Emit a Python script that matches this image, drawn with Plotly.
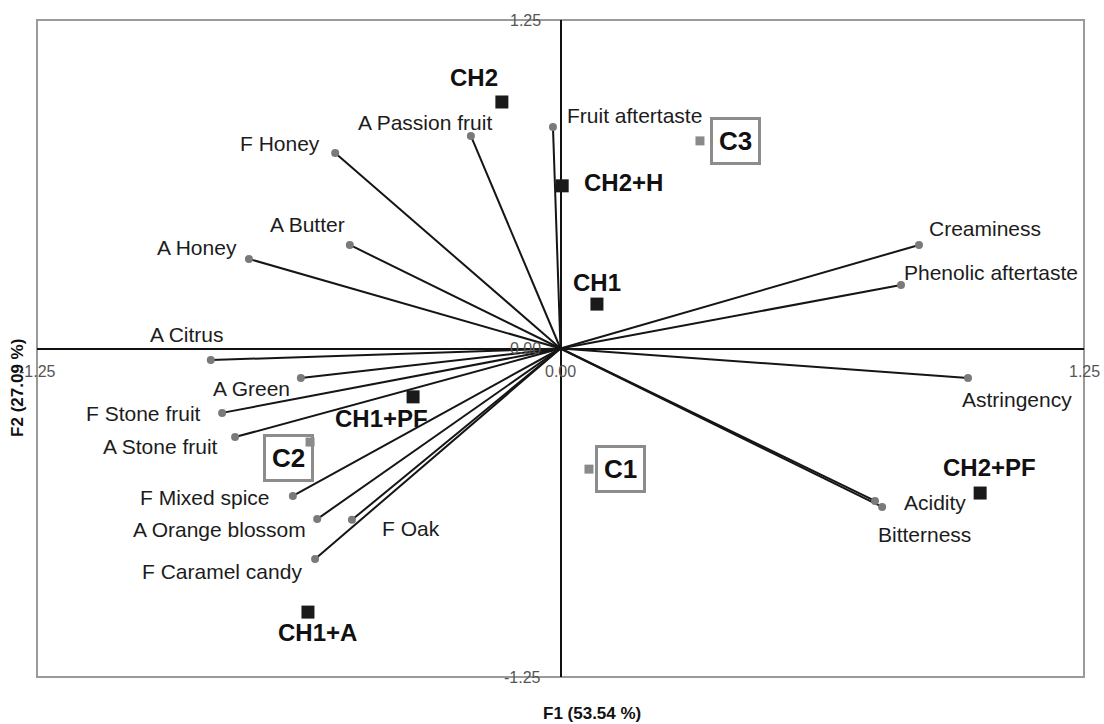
import plotly.graph_objects as go

# Sensory attributes (variable loadings on F1/F2)
var_names = ["Fruit aftertaste", "A Passion fruit", "F Honey", "A Butter", "A Honey",
             "A Citrus", "A Green", "F Stone fruit", "A Stone fruit", "F Mixed spice",
             "A Orange blossom", "F Oak", "F Caramel candy", "Creaminess",
             "Phenolic aftertaste", "Astringency", "Acidity", "Bitterness"]
var_f1 = [-0.018, -0.214, -0.538, -0.503, -0.744, -0.835, -0.620, -0.808, -0.777, -0.639,
          -0.581, -0.498, -0.586, 0.856, 0.813, 0.973, 0.751, 0.768]
var_f2 = [0.843, 0.809, 0.744, 0.394, 0.341, -0.044, -0.112, -0.245, -0.337, -0.561,
          -0.649, -0.652, -0.801, 0.394, 0.242, -0.112, -0.580, -0.603]

# Active observations (samples)
obs_names = ["CH2", "CH2+H", "CH1", "CH1+PF", "CH1+A", "CH2+PF"]
obs_f1 = [-0.140, 0.004, 0.087, -0.352, -0.603, 1.002]
obs_f2 = [0.938, 0.619, 0.169, -0.184, -1.003, -0.550]

# Supplementary observations
sup_names = ["C1", "C2", "C3"]
sup_f1 = [0.068, -0.598, 0.333]
sup_f2 = [-0.459, -0.356, 0.790]

# Axis tick labels
axis_ticks = [-1.25, 0.0, 1.25]
axis_tick_text = ["-1.25", "0.00", "1.25"]

x_title = "F1 (53.54 %)"
y_title = "F2 (27.09 %)"

# Label placement (anchor, x shift px, y shift px)
var_label_pos = {
    "Fruit aftertaste": ("left", 12, 11),
    "A Passion fruit": ("right", 23, 13),
    "F Honey": ("right", -13, 9),
    "A Butter": ("right", -3, 20),
    "A Honey": ("right", -10, 11),
    "A Citrus": ("center", -24, 26),
    "A Green": ("right", -9, -11),
    "F Stone fruit": ("right", -19, -1),
    "A Stone fruit": ("right", -15, -9),
    "F Mixed spice": ("right", -21, -2),
    "A Orange blossom": ("right", -9, -10),
    "F Oak": ("left", 28, -9),
    "F Caramel candy": ("right", -11, -12),
    "Creaminess": ("left", 8, 16),
    "Phenolic aftertaste": ("left", 1, 12),
    "Astringency": ("left", -8, -22),
    "Acidity": ("left", 27, -2),
    "Bitterness": ("left", -6, -28),
}
obs_label_pos = {
    "CH2": ("center", -28, 24),
    "CH2+H": ("left", 20, 3),
    "CH1": ("center", 0, 22),
    "CH1+PF": ("center", -32, -22),
    "CH1+A": ("center", 10, -20),
    "CH2+PF": ("center", 9, 26),
}
sup_label_pos = {
    "C1": ("left", 6, 0),
    "C2": ("center", -22, -16),
    "C3": ("left", 10, 0),
}

FONT = "Liberation Sans, Arial, sans-serif"

fig = go.Figure()

# Loading vectors from the origin
lx, ly = [], []
for xv, yv in zip(var_f1, var_f2):
    lx += [0, xv, None]
    ly += [0, yv, None]
fig.add_trace(go.Scatter(x=lx, y=ly, mode="lines",
                         line=dict(color="#151515", width=2),
                         hoverinfo="skip", showlegend=False))
fig.add_trace(go.Scatter(x=var_f1, y=var_f2, mode="markers", text=var_names,
                         marker=dict(symbol="circle", size=8, color="#7a7a7a"),
                         showlegend=False))

# Samples
fig.add_trace(go.Scatter(x=obs_f1, y=obs_f2, mode="markers", text=obs_names,
                         marker=dict(symbol="square", size=13, color="#1a1a1a"),
                         showlegend=False))
fig.add_trace(go.Scatter(x=sup_f1, y=sup_f2, mode="markers", text=sup_names,
                         marker=dict(symbol="square", size=9, color="#8a8a8a"),
                         showlegend=False))

annotations = []
for name, xv, yv in zip(var_names, var_f1, var_f2):
    anc, dx, dy = var_label_pos[name]
    annotations.append(dict(x=xv, y=yv, text=name, showarrow=False, xanchor=anc,
                            yanchor="middle", xshift=dx, yshift=dy,
                            font=dict(family=FONT, size=21, color="#1c1c1c")))
for name, xv, yv in zip(obs_names, obs_f1, obs_f2):
    anc, dx, dy = obs_label_pos[name]
    annotations.append(dict(x=xv, y=yv, text="<b>" + name + "</b>", showarrow=False,
                            xanchor=anc, yanchor="middle", xshift=dx, yshift=dy,
                            font=dict(family=FONT, size=24, color="#111111")))
for name, xv, yv in zip(sup_names, sup_f1, sup_f2):
    anc, dx, dy = sup_label_pos[name]
    annotations.append(dict(x=xv, y=yv, text="<b>" + name + "</b>", showarrow=False,
                            xanchor=anc, yanchor="middle", xshift=dx, yshift=dy,
                            bordercolor="#8c8c8c", borderwidth=3, borderpad=6,
                            bgcolor="rgba(255,255,255,0)",
                            font=dict(family=FONT, size=26, color="#111111")))

# Tick labels placed along the axes that cross at the origin
for v, t in zip(axis_ticks, axis_tick_text):
    annotations.append(dict(x=v, y=0, text=t, showarrow=False, xanchor="center",
                            yanchor="middle", yshift=-23,
                            font=dict(family=FONT, size=16, color="#555555")))
    annotations.append(dict(x=0, y=v, text=t, showarrow=False, xanchor="right",
                            yanchor="middle", xshift=-18,
                            font=dict(family=FONT, size=16, color="#555555")))

# Axis titles
annotations.append(dict(xref="paper", yref="paper", x=0.53, y=0, yshift=-36,
                        text="<b>" + x_title + "</b>", showarrow=False,
                        xanchor="center", yanchor="middle",
                        font=dict(family=FONT, size=17, color="#111111")))
annotations.append(dict(xref="paper", yref="paper", x=0, xshift=-19, y=0.44,
                        text="<b>" + y_title + "</b>", showarrow=False, textangle=-90,
                        xanchor="center", yanchor="middle",
                        font=dict(family=FONT, size=17, color="#111111")))

shapes = [
    # plot frame
    dict(type="rect", xref="paper", yref="paper", x0=0, y0=0, x1=1, y1=1,
         line=dict(color="#9a9a9a", width=2), layer="below"),
]

fig.update_layout(
    width=1104, height=724,
    margin=dict(l=37, r=20, t=20, b=47),
    paper_bgcolor="white", plot_bgcolor="white",
    showlegend=False,
    annotations=annotations,
    shapes=shapes,
    xaxis=dict(range=[-1.25, 1.25], showgrid=False, showticklabels=False, ticks="",
               zeroline=True, zerolinecolor="#111111", zerolinewidth=1.5,
               showline=False, fixedrange=True),
    yaxis=dict(range=[-1.25, 1.25], showgrid=False, showticklabels=False, ticks="",
               zeroline=True, zerolinecolor="#111111", zerolinewidth=1.5,
               showline=False, fixedrange=True),
)

fig.write_html("out.html")
